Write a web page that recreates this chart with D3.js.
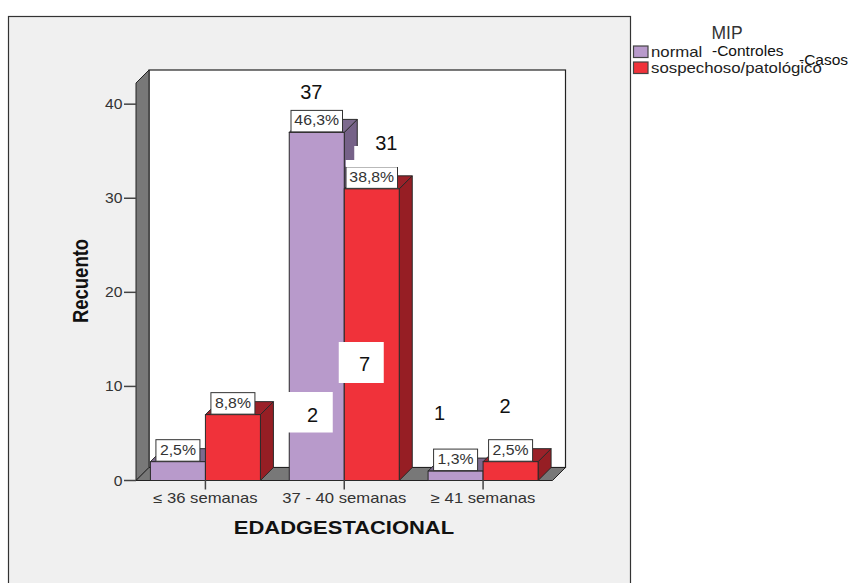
<!DOCTYPE html>
<html><head><meta charset="utf-8">
<script src="https://cdn.jsdelivr.net/npm/d3@7"></script>
<style>
html,body{margin:0;padding:0;background:#fff;}
svg{display:block;}
text{font-family:"Liberation Sans",Arial,sans-serif;}
</style></head>
<body>
<svg id="c" width="852" height="583"></svg>
<script>
// ---- data ----
const categories = ["\u2264 36 semanas", "37 - 40 semanas", "\u2265 41 semanas"];
const seriesNames = ["normal", "sospechoso/patológico"];
const normalCounts = [2, 37, 1];
const casosCounts = [7, 31, 2];
const normalPct = ["2,5%", "46,3%", "1,3%"];
const casosPct = ["8,8%", "38,8%", "2,5%"];
const yTicks = [0, 10, 20, 30, 40];
const legendTitle = "MIP";
const legendNotes = ["-Controles", "-Casos"];
const overlayTexts = ["37", "31", "7", "2", "1", "2"];

// ---- layout / style ----
const SX = 1.18;               // horizontal stretch of the original picture
const DX = 13, DY = 13;        // 3D depth offset
const colors = {
  front: ["#b89acb", "#f0323a"],
  side:  ["#766288", "#961e24"],
  top:   ["#7d6a8e", "#9b2129"]
};
const svg = d3.select("#c");

// outer panel
svg.append("rect").attr("x", 8.5).attr("y", 16.5).attr("width", 622).attr("height", 600)
  .attr("fill", "#f0f0f0").attr("stroke", "#333").attr("stroke-width", 1.2);

const x = d3.scaleBand().domain(categories).range([136, 552.5]);
const xs = d3.scaleBand().domain(seriesNames).range([-55, 55]);
const y = d3.scaleLinear().domain([0, 42.25]).range([480.5, 83]);

const x0 = x.range()[0], x1 = x.range()[1];
const y0 = y(0), yTop = y(42.25);

function stext(g, px, py, str, o) {
  return g.append("text")
    .attr("transform", `translate(${px},${py}) scale(${o.sx ?? SX},1)` + (o.rot ? ` rotate(${o.rot})` : ""))
    .attr("text-anchor", o.anchor || "start")
    .attr("font-size", o.size || 14)
    .attr("font-weight", o.weight || "normal")
    .attr("fill", o.fill || "#222")
    .text(str);
}

// back wall
svg.append("rect").attr("x", x0 + DX).attr("y", yTop - DY)
  .attr("width", x1 - x0).attr("height", y0 - yTop)
  .attr("fill", "#fff").attr("stroke", "#222").attr("stroke-width", 1.2);
// left wall
svg.append("path")
  .attr("d", `M${x0},${y0}L${x0},${yTop}L${x0 + DX},${yTop - DY}L${x0 + DX},${y0 - DY}Z`)
  .attr("fill", "#787878").attr("stroke", "#222").attr("stroke-width", 1);
// floor
svg.append("path")
  .attr("d", `M${x0},${y0}L${x1},${y0}L${x1 + DX},${y0 - DY}L${x0 + DX},${y0 - DY}Z`)
  .attr("fill", "#787878").attr("stroke", "#222").attr("stroke-width", 1);

// y axis ticks and labels
const yAx = svg.append("g");
yTicks.forEach(t => {
  yAx.append("line").attr("x1", x0 - 12).attr("x2", x0).attr("y1", y(t)).attr("y2", y(t))
    .attr("stroke", "#444").attr("stroke-width", 1.5);
  stext(yAx, x0 - 13.5, y(t) + 5, String(t), {anchor: "end", size: 14, fill: "#333", sx: 1.12});
});

// bars
const rows = [];
categories.forEach((c, i) => {
  [normalCounts[i], casosCounts[i]].forEach((v, s) => {
    rows.push({cat: c, s, v, pct: s === 0 ? normalPct[i] : casosPct[i]});
  });
});
const barG = svg.append("g");
rows.forEach(d => {
  const bx = x(d.cat) + x.bandwidth() / 2 + xs(seriesNames[d.s]);
  const bw = xs.bandwidth();
  const by = y(d.v);
  const g = barG.append("g");
  g.append("path")
    .attr("d", `M${bx + bw},${y0}L${bx + bw},${by}L${bx + bw + DX},${by - DY}L${bx + bw + DX},${y0 - DY}Z`)
    .attr("fill", colors.side[d.s]).attr("stroke", "#2a2a2a").attr("stroke-width", 1);
  g.append("path")
    .attr("d", `M${bx},${by}L${bx + DX},${by - DY}L${bx + bw + DX},${by - DY}L${bx + bw},${by}Z`)
    .attr("fill", colors.top[d.s]).attr("stroke", "#2a2a2a").attr("stroke-width", 1);
  g.append("rect").attr("x", bx).attr("y", by).attr("width", bw).attr("height", y0 - by)
    .attr("fill", colors.front[d.s]).attr("stroke", "#2a2a2a").attr("stroke-width", 1);
  d.cx = bx + bw / 2; d.by = by;
});

// x axis ticks & labels
const xAx = svg.append("g");
categories.forEach(c => {
  const cx = x(c) + x.bandwidth() / 2;
  xAx.append("line").attr("x1", cx).attr("x2", cx).attr("y1", y0 - 0.5).attr("y2", y0 + 9)
    .attr("stroke", "#444").attr("stroke-width", 1.5);
  stext(xAx, cx, y0 + 22.5, c, {anchor: "middle", size: 14, fill: "#333", sx: 1.19});
});

// percentage labels
const lblG = svg.append("g");
rows.forEach(d => {
  const tw = d.pct.length <= 4 ? 31 : 38.5;
  const w = tw + 13, h = 21.5;
  lblG.append("rect").attr("x", d.cx - w / 2).attr("y", d.by - h - 0.5).attr("width", w).attr("height", h)
    .attr("fill", "#fff").attr("stroke", "#333").attr("stroke-width", 1);
  stext(lblG, d.cx, d.by - 7, d.pct, {anchor: "middle", size: 14, fill: "#333", sx: 1.13});
});

// axis titles
stext(svg, 344, 534, "EDADGESTACIONAL", {anchor: "middle", size: 18, weight: "bold", fill: "#111", sx: 1.22});
stext(svg, 88, 281, "Recuento", {anchor: "middle", size: 18.5, weight: "bold", fill: "#111", sx: 1.2, rot: -90});

// legend
const lg = svg.append("g");
stext(lg, 727, 38.5, legendTitle, {anchor: "middle", size: 17.5, fill: "#333", sx: 1.0});
seriesNames.forEach((n, i) => {
  const yy = [46, 62][i];
  lg.append("rect").attr("x", 633.5).attr("y", yy).attr("width", 14.5).attr("height", 11.5)
    .attr("fill", colors.front[i]).attr("stroke", "#444").attr("stroke-width", 1.2);
  stext(lg, 651, yy + 11, n, {size: 14, fill: "#222", sx: 1.2});
});
stext(lg, 712, 56, legendNotes[0], {size: 15.5, fill: "#111", sx: 1.0});
stext(lg, 799, 65, legendNotes[1], {size: 15.5, fill: "#111", sx: 1.0});

// overlay count annotations (added on top of the chart)
const ov = svg.append("g");
const mid = x(categories[1]) + x.bandwidth() / 2;
ov.append("rect").attr("x", mid + 10).attr("y", 146).attr("width", 60).attr("height", 21).attr("fill", "#fff");
ov.append("rect").attr("x", mid + 1.5).attr("y", 160).attr("width", 12).attr("height", 7).attr("fill", "#fff");
ov.append("rect").attr("x", mid - 5.5).attr("y", 342).attr("width", 45).attr("height", 41).attr("fill", "#fff");
ov.append("rect").attr("x", mid - 57.5).attr("y", 392).attr("width", 46).attr("height", 40.5).attr("fill", "#fff");
const ovPos = [[311.3, 99.3], [386.3, 150], [364.5, 371], [312.5, 421.7], [439.5, 420], [505, 412.7]];
overlayTexts.forEach((t, i) => {
  ov.append("text").attr("x", ovPos[i][0]).attr("y", ovPos[i][1]).attr("text-anchor", "middle")
    .attr("font-size", 20).attr("fill", "#111").text(t);
});
</script>
</body></html>
